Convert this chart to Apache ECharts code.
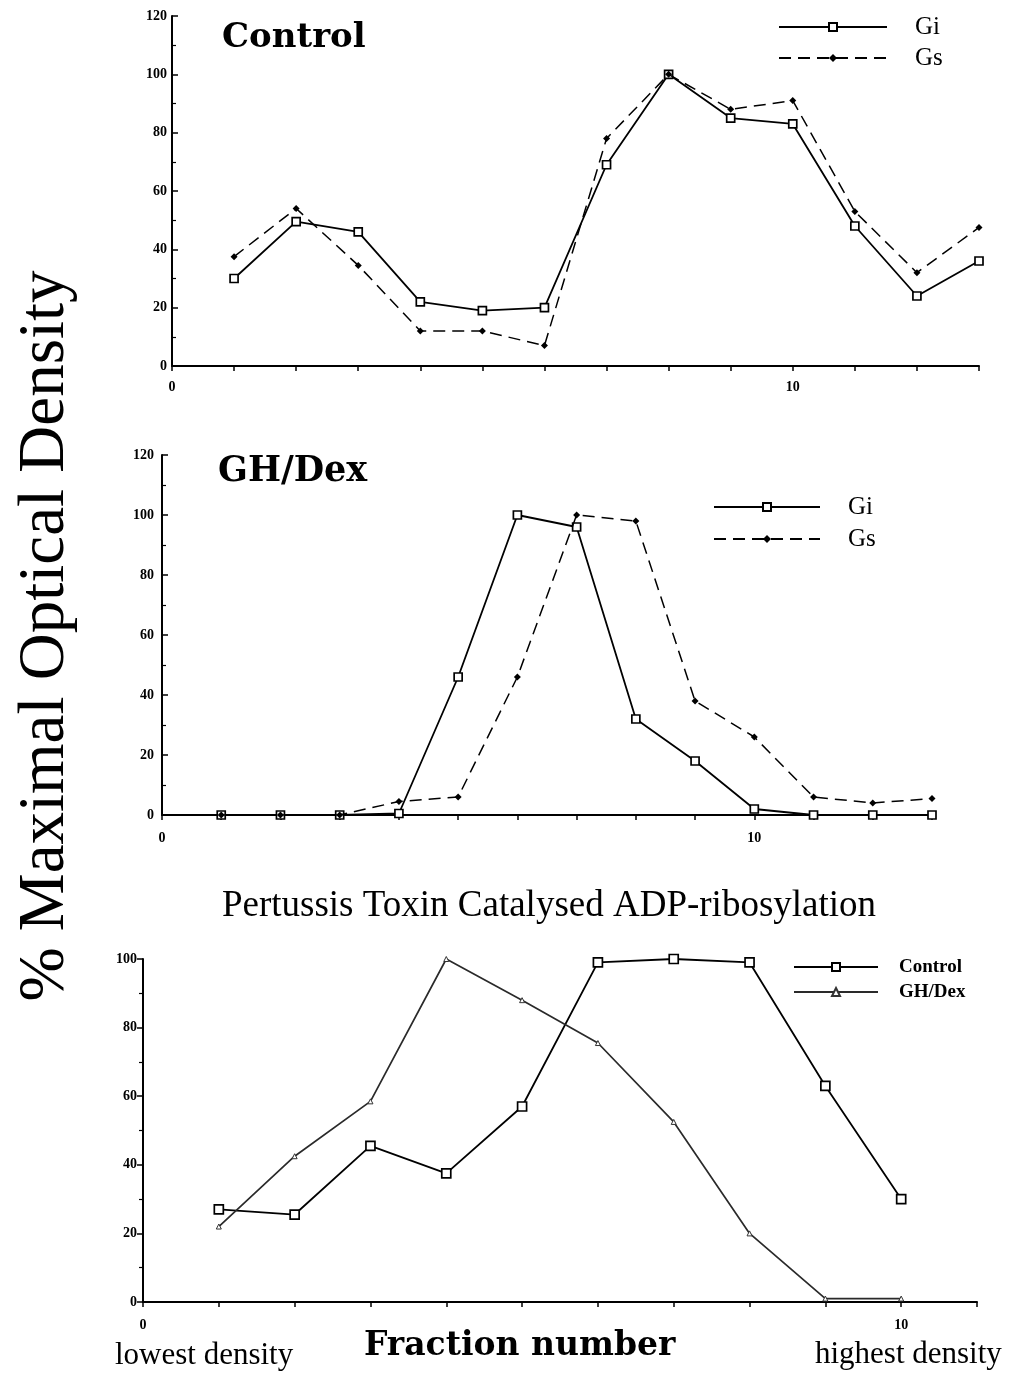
<!DOCTYPE html>
<html>
<head>
<meta charset="utf-8">
<title>% Maximal Optical Density</title>
<script src="https://cdn.jsdelivr.net/npm/echarts@6/dist/echarts.min.js"></script>
<style>
  html, body { margin: 0; padding: 0; background: #fff; }
  #chart { width: 1014px; height: 1374px; }
</style>
</head>
<body>
<div id="chart"></div>
<script>
// Fraction numbers (gradient fractions, lowest to highest density)
const fractionsGrad = [1, 2, 3, 4, 5, 6, 7, 8, 9, 10, 11, 12, 13];
const fractionsPtx = [1, 2, 3, 4, 5, 6, 7, 8, 9, 10];

// Control membranes: % maximal optical density per fraction
const controlGi = [30, 49.5, 46, 22, 19, 20, 69, 100, 85, 83, 48, 24, 36];
const controlGs = [37.5, 54, 34.5, 12, 12, 7, 78, 100, 88, 91, 53, 32, 47.5];

// GH/Dex treated membranes
const ghdexGi = [0, 0, 0, 0.5, 46, 100, 96, 32, 18, 2, 0, 0, 0];
const ghdexGs = [0, 0, 0, 4.5, 6, 46, 100, 98, 38, 26, 6, 4, 5.5];

// Pertussis toxin catalysed ADP-ribosylation
const ptxControl = [27, 25.5, 45.5, 37.5, 57, 99, 100, 99, 63, 30];
const ptxGhdex = [22, 42.5, 58.5, 100, 88, 75.5, 52.5, 20, 1, 1];

// Axis tick labels
const xTickLabels = [0, 10];
const yMaxGrad = 120;
const yMaxPtx = 100;

const serif = '"Liberation Serif", "Times New Roman", serif';
const wideSerif = '"DejaVu Serif", "Liberation Serif", serif';

function pairs(xs, ys) {
  return xs.map((x, i) => [x, ys[i]]);
}

function xAxis(gridIndex, max, margin) {
  return {
    gridIndex, type: 'value', min: 0, max: max, interval: 1,
    axisLine: { show: true, onZero: false, lineStyle: { color: '#000', width: 2 } },
    axisTick: { show: true, inside: false, length: 5, lineStyle: { color: '#000', width: 1.5 } },
    axisLabel: {
      show: true, showMinLabel: true, margin: margin,
      formatter: v => (xTickLabels.indexOf(v) >= 0 ? String(v) : ''),
      fontFamily: serif, fontWeight: 'bold', fontSize: 14, color: '#000'
    },
    splitLine: { show: false }
  };
}

function yAxis(gridIndex, max, inside, margin) {
  return {
    gridIndex, type: 'value', min: 0, max: max, interval: 20,
    axisLine: { show: true, lineStyle: { color: '#000', width: 2 } },
    axisTick: { show: true, inside: inside, length: 6, lineStyle: { color: '#000', width: 1.5 } },
    minorTick: { show: true, splitNumber: 2, length: 4, lineStyle: { color: '#000', width: 1.2 } },
    axisLabel: {
      show: true, margin: margin,
      fontFamily: serif, fontWeight: 'bold', fontSize: 14, color: '#000'
    },
    splitLine: { show: false },
    minorSplitLine: { show: false }
  };
}

const squareStyle = { color: '#fff', borderColor: '#000', borderWidth: 1.7 };

function giSeries(name, idx, ys) {
  return {
    name, type: 'line', xAxisIndex: idx, yAxisIndex: idx,
    data: pairs(fractionsGrad, ys),
    symbol: 'rect', symbolSize: 8,
    itemStyle: squareStyle,
    lineStyle: { color: '#000', width: 1.8, type: 'solid' },
    z: 3
  };
}

function gsSeries(name, idx, ys) {
  return {
    name, type: 'line', xAxisIndex: idx, yAxisIndex: idx,
    data: pairs(fractionsGrad, ys),
    symbol: 'diamond', symbolSize: 7,
    itemStyle: { color: '#000' },
    lineStyle: { color: '#000', width: 1.5, type: [12, 7] },
    z: 4
  };
}

const option = {
  animation: false,
  backgroundColor: '#fff',
  grid: [
    { left: 172, top: 16, width: 807, height: 350 },
    { left: 162, top: 455, width: 770, height: 360 },
    { left: 143, top: 959, width: 834, height: 343 }
  ],
  xAxis: [xAxis(0, 13, 14), xAxis(1, 13, 16), xAxis(2, 11, 16)],
  yAxis: [yAxis(0, yMaxGrad, true, 5), yAxis(1, yMaxGrad, true, 8), yAxis(2, yMaxPtx, false, 6)],
  legend: [
    {
      data: ['Gi', 'Gs'], orient: 'vertical', left: 778, top: 14, padding: 0,
      itemWidth: 108, itemHeight: 10, itemGap: 5, selectedMode: false,
      textStyle: { fontFamily: serif, fontSize: 25, color: '#000', lineHeight: 26, padding: [0, 0, 0, 23] }
    },
    {
      data: ['Gi ', 'Gs '], orient: 'vertical', left: 713, top: 494, padding: 0,
      itemWidth: 106, itemHeight: 10, itemGap: 6, selectedMode: false,
      formatter: n => n.trim(),
      textStyle: { fontFamily: serif, fontSize: 25, color: '#000', lineHeight: 26, padding: [0, 0, 0, 23] }
    },
    {
      data: ['Control', 'GH/Dex'], orient: 'vertical', left: 793, top: 957, padding: 0,
      itemWidth: 84, itemHeight: 10, itemGap: 5, selectedMode: false,
      textStyle: { fontFamily: serif, fontWeight: 'bold', fontSize: 19, color: '#000', lineHeight: 20, padding: [0, 0, 0, 16] }
    }
  ],
  series: [
    giSeries('Gi', 0, controlGi),
    gsSeries('Gs', 0, controlGs),
    giSeries('Gi ', 1, ghdexGi),
    gsSeries('Gs ', 1, ghdexGs),
    {
      name: 'Control', type: 'line', xAxisIndex: 2, yAxisIndex: 2,
      data: pairs(fractionsPtx, ptxControl),
      symbol: 'rect', symbolSize: 9,
      itemStyle: squareStyle,
      lineStyle: { color: '#000', width: 1.8 },
      z: 3
    },
    {
      name: 'GH/Dex', type: 'line', xAxisIndex: 2, yAxisIndex: 2,
      data: pairs(fractionsPtx, ptxGhdex),
      symbol: 'triangle', symbolSize: 5,
      itemStyle: { color: '#fff', borderColor: '#333', borderWidth: 1 },
      lineStyle: { color: '#2a2a2a', width: 1.7 },
      z: 4
    }
  ],
  graphic: [
    {
      type: 'text', x: 46, y: 636, rotation: Math.PI / 2,
      style: { text: '% Maximal Optical Density', fontFamily: serif, fontSize: 65, fill: '#000', align: 'center', verticalAlign: 'middle' }
    },
    {
      type: 'text', x: 222, y: 38,
      style: { text: 'Control', fontFamily: wideSerif, fontWeight: 'bold', fontSize: 34, fill: '#000', align: 'left', verticalAlign: 'middle' }
    },
    {
      type: 'text', x: 218, y: 472,
      style: { text: 'GH/Dex', fontFamily: wideSerif, fontWeight: 'bold', fontSize: 35, fill: '#000', align: 'left', verticalAlign: 'middle' }
    },
    {
      type: 'text', x: 549, y: 906,
      style: { text: 'Pertussis Toxin Catalysed ADP-ribosylation', fontFamily: serif, fontSize: 37, fill: '#000', align: 'center', verticalAlign: 'middle' }
    },
    {
      type: 'text', x: 364, y: 1346,
      style: { text: 'Fraction number', fontFamily: wideSerif, fontWeight: 'bold', fontSize: 33, fill: '#000', align: 'left', verticalAlign: 'middle' }
    },
    {
      type: 'text', x: 115, y: 1356,
      style: { text: 'lowest density', fontFamily: serif, fontSize: 31, fill: '#000', align: 'left', verticalAlign: 'middle' }
    },
    {
      type: 'text', x: 815, y: 1355,
      style: { text: 'highest density', fontFamily: serif, fontSize: 31, fill: '#000', align: 'left', verticalAlign: 'middle' }
    }
  ]
};

const chart = echarts.init(document.getElementById('chart'), null, { renderer: 'canvas' });
chart.setOption(option);
</script>
</body>
</html>
